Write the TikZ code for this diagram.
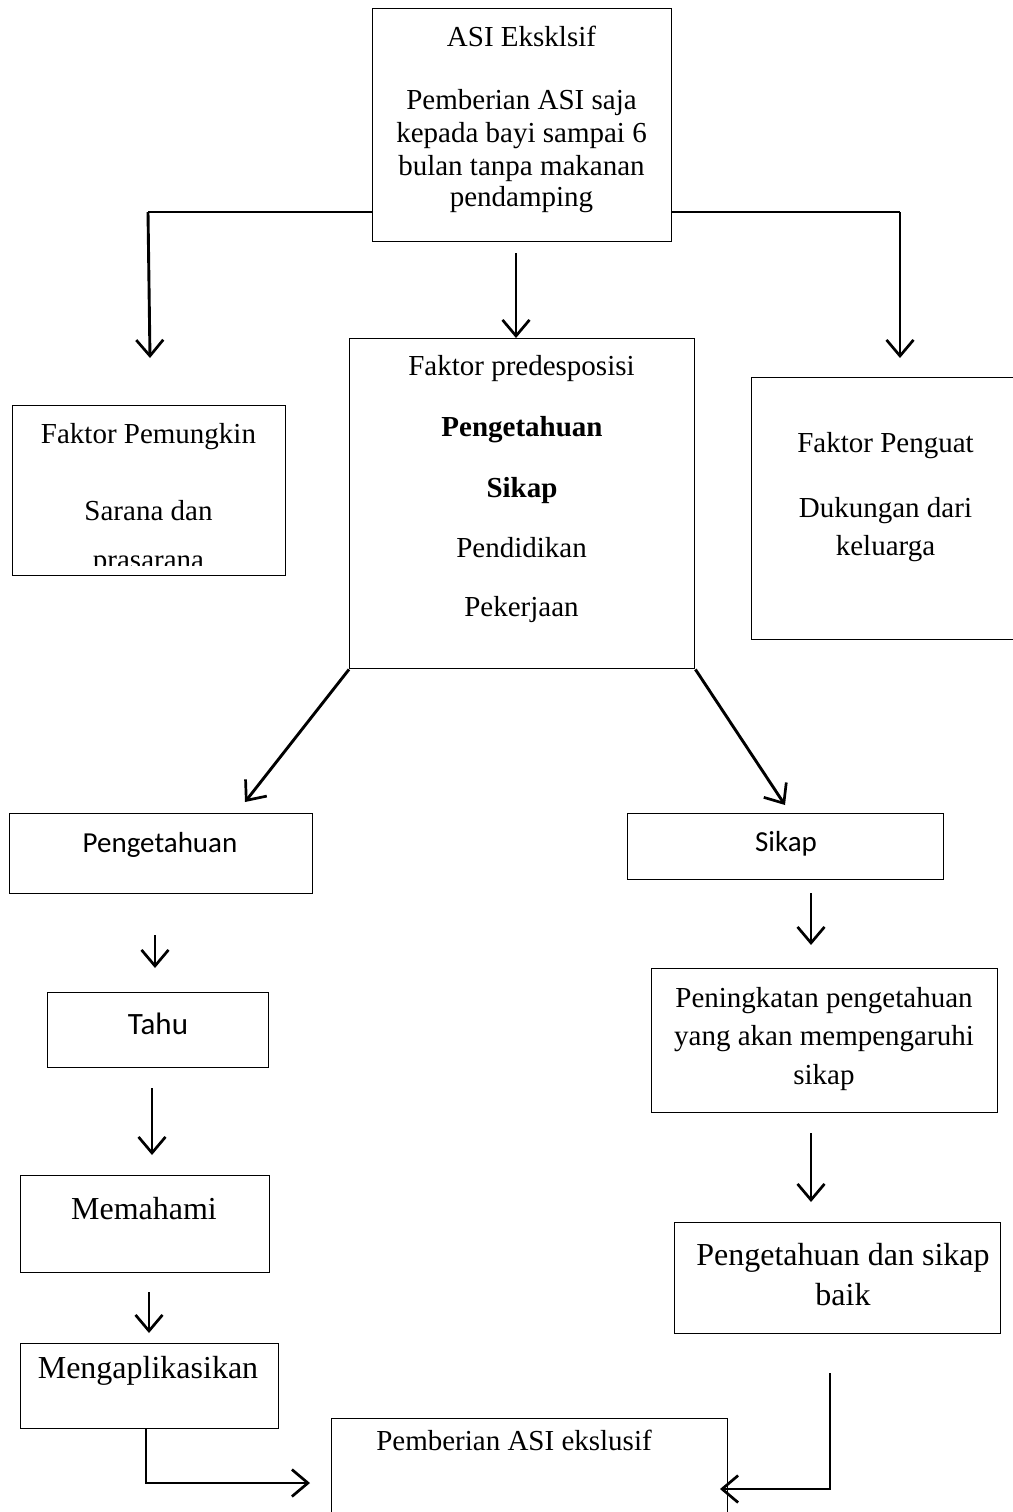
\documentclass[tikz,border=0pt]{standalone}
\usepackage{fontspec}
\setmainfont{Liberation Serif}
\newfontfamily\calibri{Carlito}
\usetikzlibrary{arrows.meta}

\begin{document}
\begin{tikzpicture}[x=1pt,y=-1pt,
  box/.style={draw=black, line width=1.4pt, inner sep=0pt, anchor=north west},
  plain/.style={line width=2.9pt},
  conn/.style={line width=2.9pt, -{Straight Barb[length=16pt,width=27pt,line width=2.7pt]}},
  txt/.style={anchor=base, inner sep=0pt, font=\fontsize{29}{33}\selectfont},
  big/.style={anchor=base, inner sep=0pt, font=\fontsize{32}{36}\selectfont},
  sans/.style={anchor=base, inner sep=0pt, font=\calibri\fontsize{29}{33}\selectfont},
  sansbig/.style={anchor=base, inner sep=0pt, font=\calibri\fontsize{31}{35}\selectfont}]
\useasboundingbox (0,0) rectangle (1012,1512);

% ---- boxes ----
\node[box, minimum width=299pt, minimum height=233pt] (asi)   at (372,8)    {};
\node[box, minimum width=345pt, minimum height=330pt] (pred)  at (349,338)  {};
\node[box, minimum width=273pt, minimum height=170pt] (pem)   at (12,405)   {};
\node[box, minimum width=270pt, minimum height=262pt] (pgt)   at (751,377)  {};
\node[box, minimum width=303pt, minimum height=80pt]  (tahuan) at (9,813)   {};
\node[box, minimum width=316pt, minimum height=66pt]  (sikap) at (627,813)  {};
\node[box, minimum width=221pt, minimum height=75pt]  (tahu)  at (47,992)   {};
\node[box, minimum width=249pt, minimum height=97pt]  (paham) at (20,1175)  {};
\node[box, minimum width=258pt, minimum height=85pt]  (aplik) at (20,1343)  {};
\node[box, minimum width=346pt, minimum height=144pt] (ningkat) at (651,968) {};
\node[box, minimum width=326pt, minimum height=111pt] (baik)  at (674,1222) {};
\node[box, minimum width=396pt, minimum height=110pt] (akhir) at (331,1418) {};

% ---- texts ----
\node[txt] (asiA) at (521.5,47)  {ASI Eksklsif};
\node[txt] (asiB) at (521.5,109) {Pemberian ASI saja};
\node[txt] (asiC) at (521.5,142) {kepada bayi sampai 6};
\node[txt] (asiD) at (521.5,175) {bulan tanpa makanan};
\node[txt] (asiE) at (521.5,206) {pendamping};

\node[txt] (predA) at (521.5,375) {Faktor predesposisi};
\node[txt, font=\bfseries\fontsize{29}{33}\selectfont] (predB) at (522,436) {Pengetahuan};
\node[txt, font=\bfseries\fontsize{29}{33}\selectfont] (predC) at (522,497) {Sikap};
\node[txt] (predD) at (521.5,557) {Pendidikan};
\node[txt] (predE) at (521.5,616) {Pekerjaan};

\node[txt] (pemA) at (148.5,443) {Faktor Pemungkin};
\node[txt] (pemB) at (148.5,520) {Sarana dan};
\begin{scope}
  \clip (12,405) rectangle (285,565);
  \node[txt] (pemC) at (148.5,569) {prasarana};
\end{scope}

\node[txt] (pgtA) at (885.5,452) {Faktor Penguat};
\node[txt] (pgtB) at (885.5,517) {Dukungan dari};
\node[txt] (pgtC) at (885.5,555) {keluarga};

\node[sans] (tahuanT) at (160,852) {Pengetahuan};
\node[sans] (sikapT) at (786,851) {Sikap};
\node[sansbig] (tahuT) at (158,1034) {Tahu};
\node[big] (pahamT) at (144,1219) {Memahami};
\node[big] (aplikT) at (148,1378) {Mengaplikasikan};

\node[txt] (ningA) at (824,1007) {Peningkatan pengetahuan};
\node[txt] (ningB) at (824,1045) {yang akan mempengaruhi};
\node[txt] (ningC) at (824,1084) {sikap};

\node[big] (baikA) at (843,1265) {Pengetahuan dan sikap};
\node[big] (baikB) at (843,1305) {baik};

\node[txt] (akhirT) at (514,1450) {Pemberian ASI ekslusif};

% ---- connector end points ----
\coordinate (lTurn)  at (148,212);
\coordinate (lEnd)   at (150,358);
\coordinate (rTurn)  at (900,212);
\coordinate (rEnd)   at (900,358);
\coordinate (mStart) at (516,253);
\coordinate (dlEnd)  at (245,802);
\coordinate (drEnd)  at (785,805);
\coordinate (a1s) at (155,935);  \coordinate (a1e) at (155,968);
\coordinate (a2s) at (152,1088); \coordinate (a2e) at (152,1155);
\coordinate (a3s) at (149,1292); \coordinate (a3e) at (149,1333);
\coordinate (b1s) at (811,893);  \coordinate (b1e) at (811,945);
\coordinate (b2s) at (811,1133); \coordinate (b2e) at (811,1202);
\coordinate (fRs) at (830,1373); \coordinate (fRt) at (830,1489); \coordinate (fRe) at (720,1489);
\coordinate (fLs) at (146,1428); \coordinate (fLt) at (146,1483); \coordinate (fLe) at (310,1483);

% ---- connectors ----
\draw[plain] (asi.west |- lTurn) -- (lTurn);
\draw[conn] (lTurn) -- (lEnd);
\draw[plain] (asi.east |- rTurn) -- (rTurn);
\draw[conn] (rTurn) -- (rEnd);
\draw[conn] (mStart) -- (mStart |- pred.north);
\draw[conn] (pred.south west) -- (dlEnd);
\draw[conn] (pred.south east) -- (drEnd);
\draw[conn] (a1s) -- (a1e);
\draw[conn] (a2s) -- (a2e);
\draw[conn] (a3s) -- (a3e);
\draw[conn] (b1s) -- (b1e);
\draw[conn] (b2s) -- (b2e);
\draw[conn] (fRs) -- (fRt) -- (fRe);
\draw[conn] (fLs) -- (fLt) -- (fLe);
\end{tikzpicture}
\end{document}
